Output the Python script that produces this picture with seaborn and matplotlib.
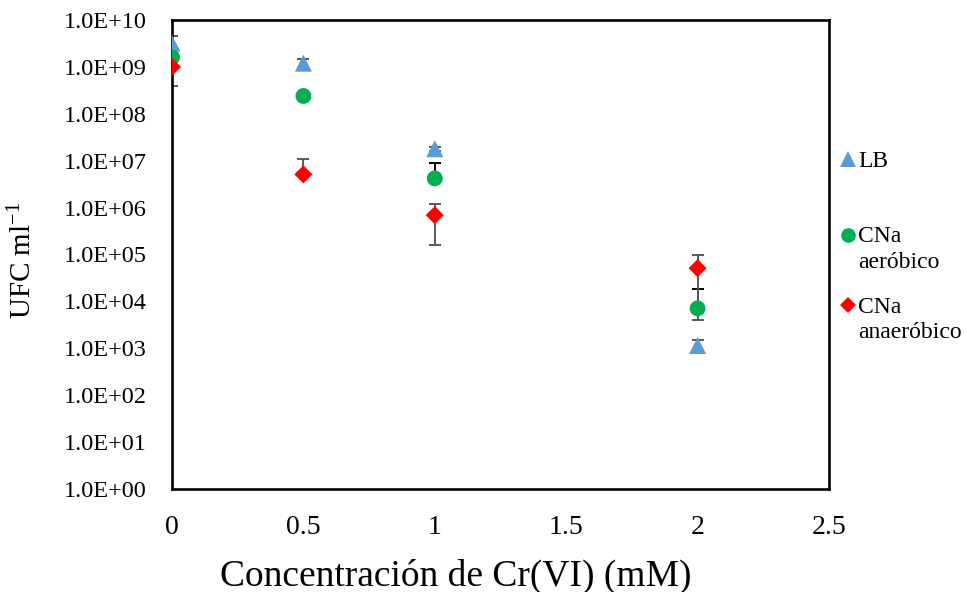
import numpy as np
import pandas as pd
import matplotlib
matplotlib.use("Agg")
import matplotlib.pyplot as plt
import seaborn as sns
from matplotlib.ticker import FixedLocator, FuncFormatter, NullLocator
from matplotlib.lines import Line2D

# ---- data ----
conc = [0, 0.5, 1, 2]
series = ["LB", "CNa aeróbico", "CNa anaeróbico"]
lb = [3.2e9, 1.2e9, 1.8e7, 1.15e3]
lb_err = [1.3e9, 2.5e8, 2.0e6, 3.5e2]
aer = [1.6e9, 2.4e8, 4.2e6, 7.1e3]
aer_err = [1.0e8, 2.0e7, 4.9e6, 1.1e4]
anaer = [1.0e9, 5.1e6, 6.9e5, 5.1e4]
anaer_err = [6.0e8, 6.0e6, 5.3e5, 4.7e4]
xticks = [0, 0.5, 1, 1.5, 2, 2.5]
yticks = [1e0, 1e1, 1e2, 1e3, 1e4, 1e5, 1e6, 1e7, 1e8, 1e9, 1e10]
legend_lines = [["LB"], ["CNa", "aeróbico"], ["CNa", "anaeróbico"]]

colors = {"LB": "#5B9BD5", "CNa aeróbico": "#00B050", "CNa anaeróbico": "#FF0000"}
markers = {"LB": "^", "CNa aeróbico": "o", "CNa anaeróbico": "D"}
sizes = {"LB": 150, "CNa aeróbico": 130, "CNa anaeróbico": 85}
err_colors = {"LB": "#595959", "CNa aeróbico": "#000000", "CNa anaeróbico": "#595959"}

values = {"LB": lb, "CNa aeróbico": aer, "CNa anaeróbico": anaer}
errors = {"LB": lb_err, "CNa aeróbico": aer_err, "CNa anaeróbico": anaer_err}

rows = []
for s in series:
    for c, v in zip(conc, values[s]):
        rows.append({"conc": c, "ufc": v, "serie": s})
df = pd.DataFrame(rows)

sns.set_theme(style="white")
plt.rcParams["font.family"] = ["Liberation Serif", "DejaVu Serif"]
plt.rcParams["mathtext.default"] = "regular"

fig = plt.figure(figsize=(9.67, 5.92), dpi=100)
ax = fig.add_axes([172 / 967, 1 - 489 / 592, (829 - 172) / 967, (489 - 20) / 592])
ax.set_yscale("log")

# error bars (Excel style: no lower bar when value - err <= 0)
for s in series:
    v = np.array(values[s])
    e = np.array(errors[s])
    lower = np.where(v - e > 0, e, 0.0)
    ax.errorbar(conc, v, yerr=[lower, e], fmt="none", ecolor=err_colors[s],
                elinewidth=1.4, capsize=4.3, capthick=1.4, zorder=2)

sns.scatterplot(data=df, x="conc", y="ufc", hue="serie", style="serie", size="serie",
                palette=colors, markers=markers, sizes=sizes, linewidth=0,
                legend=False, zorder=3, ax=ax)

ax.set_xlim(0, 2.5)
ax.set_ylim(1e0, 1e10)
ax.xaxis.set_major_locator(FixedLocator(xticks))
ax.xaxis.set_major_formatter(FuncFormatter(lambda v, p: f"{v:g}"))
ax.yaxis.set_major_locator(FixedLocator(yticks))
ax.yaxis.set_minor_locator(NullLocator())
ax.yaxis.set_major_formatter(FuncFormatter(lambda v, p: f"{v:.1E}"))
ax.tick_params(axis="y", length=0, pad=18, labelsize=17.5, colors="black")
ax.tick_params(axis="x", length=0, pad=19, labelsize=20, colors="black")

for sp in ax.spines.values():
    sp.set_visible(True)
    sp.set_color("black")
    sp.set_linewidth(1.9)

ax.set_xlabel("Concentración de Cr(VI) (mM)", fontsize=27, color="black")
ax.xaxis.set_label_coords((456 - 172) / 657, -0.148)
ax.set_ylabel("UFC ml$^{-1}$", fontsize=21, color="black")
ax.yaxis.set_label_coords((37 - 172) / 657, (489 - 260) / 469)
ax.grid(False)

# legend (Excel style: marker aligned with the first text line)
marker_y = [159, 235, 305]
baselines = [[167], [242, 268], [313, 338]]
for s, my, lines, bls in zip(series, marker_y, legend_lines, baselines):
    fig.add_artist(Line2D([848 / 967], [1 - my / 592], transform=fig.transFigure,
                          marker=markers[s], color=colors[s], linestyle="none",
                          markersize=np.sqrt(sizes[s]) * 0.92, markeredgewidth=0))
    for txt, bl in zip(lines, bls):
        fig.text(858 / 967, 1 - bl / 592, txt, fontsize=17, va="baseline", ha="left",
                 color="black")

fig.savefig("out.png", dpi=100, facecolor="white")
